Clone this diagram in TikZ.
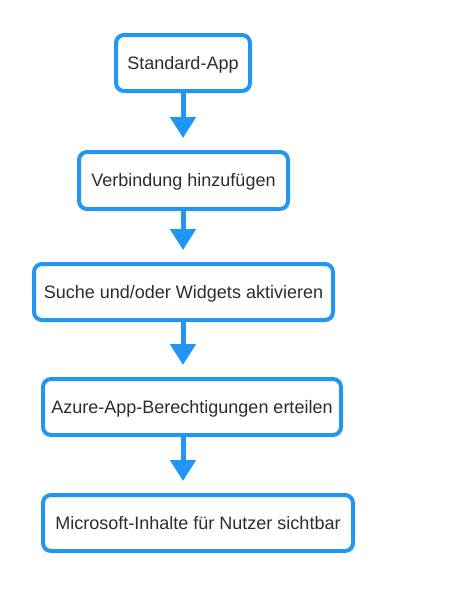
\documentclass[tikz,border=0pt]{standalone}
\usepackage{fontspec}
\setmainfont{Liberation Sans}
\usetikzlibrary{arrows.meta}
\definecolor{flowblue}{RGB}{33,150,243}
\definecolor{txtgray}{RGB}{45,45,45}
\tikzset{
  stepbox/.style={draw=flowblue, line width=4pt, rounded corners=8pt, fill=white,
    text=txtgray, font=\fontsize{18}{21}\selectfont, inner sep=0pt,
    text height=12.9pt, text depth=0pt, align=center},
  flowarrow/.style={draw=flowblue, line width=5pt, shorten >=12pt,
    -{Triangle[width=25pt,length=21pt]}}
}
\begin{document}
\begin{tikzpicture}[x=1pt,y=1pt]
\useasboundingbox (0,0) rectangle (451,-606);
\coordinate (ax) at (183,0);
\node[stepbox, minimum width=134pt, minimum height=56pt] (n1) at (183,-63) {Standard-App};
\node[stepbox, minimum width=209pt, minimum height=57pt] (n2) at (183.5,-180.5) {Verbindung hinzufügen};
\node[stepbox, minimum width=299pt, minimum height=56pt] (n3) at (183.5,-292) {Suche und/oder Widgets aktivieren};
\node[stepbox, minimum width=298pt, minimum height=56pt] (n4) at (192,-407) {Azure-App-Berechtigungen erteilen};
\node[stepbox, minimum width=310pt, minimum height=56pt] (n5) at (198,-523) {Microsoft-Inhalte für Nutzer sichtbar};
\draw[flowarrow] (n1.south -| ax) -- (n2.north -| ax);
\draw[flowarrow] (n2.south -| ax) -- (n3.north -| ax);
\draw[flowarrow] (n3.south -| ax) -- (n4.north -| ax);
\draw[flowarrow] (n4.south -| ax) -- (n5.north -| ax);
\end{tikzpicture}
\end{document}
